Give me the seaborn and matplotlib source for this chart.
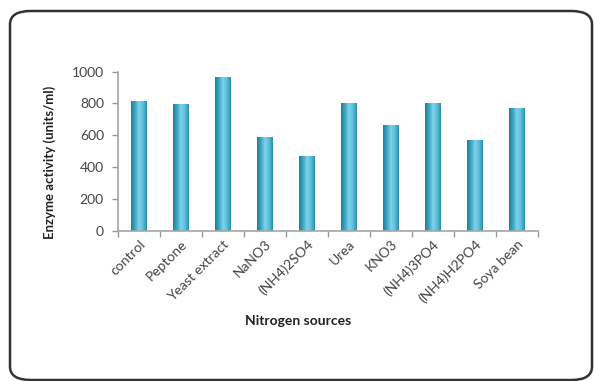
import numpy as np
import pandas as pd
import matplotlib
matplotlib.use("Agg")
import matplotlib.pyplot as plt
import seaborn as sns
from matplotlib.patches import FancyBboxPatch
from matplotlib.colors import LinearSegmentedColormap

# Enzyme activity for each nitrogen source
sources = ["control", "Peptone", "Yeast extract", "NaNO3", "(NH4)2SO4",
           "Urea", "KNO3", "(NH4)3PO4", "(NH4)H2PO4", "Soya bean"]
activity = [815, 798, 965, 592, 468, 805, 668, 805, 572, 773]
yticks = [0, 200, 400, 600, 800, 1000]

df = pd.DataFrame({"source": sources, "activity": activity})

sns.set_theme(style="white")
plt.rcParams["font.family"] = ["Lato", "DejaVu Sans"]

fig = plt.figure(figsize=(5.95, 3.81), dpi=100)
ax = fig.add_axes([0.198, 0.394, 0.706, 0.418])

sns.barplot(data=df, x="source", y="activity", color="#3ea9c7",
            width=0.38, ax=ax, saturation=1)

# cylinder-like horizontal shading on every bar
shade = LinearSegmentedColormap.from_list(
    "cyl", ["#1f7f9c", "#3aa6c4", "#7fd3ea", "#5cc0db", "#2a8fae"])
grad = np.linspace(0, 1, 64).reshape(1, -1)
for p in list(ax.patches):
    x0, y0 = p.get_x(), p.get_y()
    w, h = p.get_width(), p.get_height()
    im = ax.imshow(grad, cmap=shade, aspect="auto",
                   extent=[x0, x0 + w, y0, y0 + h], zorder=p.get_zorder() + 0.1)
    im.set_clip_path(p)
    p.set_edgecolor("none")

tick_color = "#444444"
ax.set_xlim(-0.5, len(sources) - 0.5)
ax.set_ylim(0, 1000)
ax.set_yticks(yticks)
ax.set_yticklabels([str(v) for v in yticks], fontsize=10, color=tick_color)
ax.set_xticks(range(len(sources)))
ax.set_xticklabels(sources, rotation=45, ha="right", rotation_mode="anchor",
                   fontsize=10, color=tick_color)
ax.tick_params(axis="x", length=0, pad=5)
ax.set_xticks(np.arange(-0.5, len(sources) + 0.5, 1), minor=True)
ax.tick_params(axis="x", which="minor", length=4, color="#999999", width=1,
               direction="out", bottom=True)
ax.tick_params(axis="y", length=4, color="#999999", width=1,
               direction="out", left=True, pad=6)

for s in ["top", "right"]:
    ax.spines[s].set_visible(False)
for s in ["left", "bottom"]:
    ax.spines[s].set_color("#a6a6a6")
    ax.spines[s].set_linewidth(1.2)

ax.set_xlabel("Nitrogen sources", fontsize=10, fontweight="bold",
              color="#222222")
ax.set_ylabel("Enzyme activity (units/ml)", fontsize=9.5, fontweight="bold",
              color="#222222")
ax.xaxis.set_label_coords(0.43, -0.53)
ax.yaxis.set_label_coords(-0.148, 0.43)

# rounded frame around the chart
frame = FancyBboxPatch((10 / 595, 1 / 381), 582 / 595, 369 / 381,
                       boxstyle="round,pad=0,rounding_size=0.035",
                       transform=fig.transFigure, fill=False,
                       edgecolor="#333333", linewidth=1.8)
fig.patches.append(frame)

fig.savefig("out.png", dpi=100)
